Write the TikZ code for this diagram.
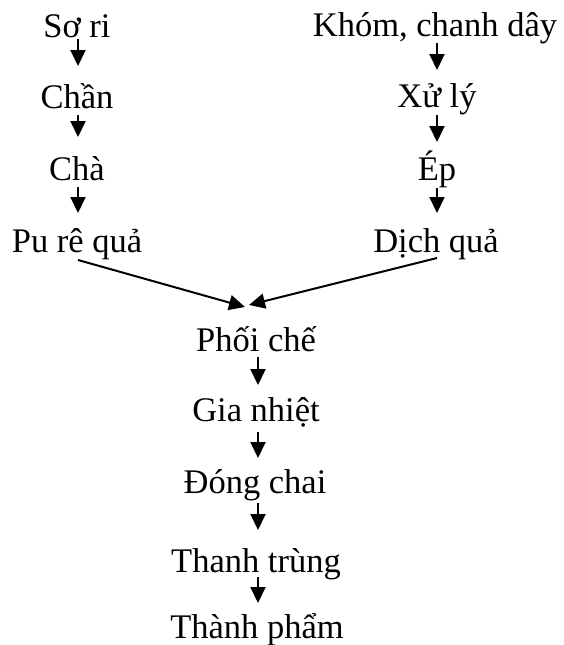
\documentclass[tikz,border=0pt]{standalone}
\usepackage{fontspec}
\setmainfont{Liberation Serif}
\usetikzlibrary{arrows.meta}
\begin{document}
\begin{tikzpicture}[x=1pt,y=-1pt,
  lbl/.style={anchor=base,inner sep=0pt,font=\fontsize{34.5}{40}\selectfont},
  arr/.style={line width=2pt,-{Triangle[length=16pt,width=15pt]}}]
\useasboundingbox (0,0) rectangle (563,645);
% left column
\node[lbl] (sori) at (77,37) {Sơ ri};
\node[lbl] (chan) at (77,108) {Chần};
\node[lbl] (cha)  at (77,180) {Chà};
\node[lbl] (pure) at (77,252) {Pu rê quả};
% right column
\node[lbl] (khom) at (435,36) {Khóm, chanh dây};
\node[lbl] (xuly) at (437,107) {Xử lý};
\node[lbl] (ep)   at (437,180) {Ép};
\node[lbl] (dich) at (436,252) {Dịch quả};
% centre column
\node[lbl] (phoi)  at (256,351) {Phối chế};
\node[lbl] (gia)   at (256,421) {Gia nhiệt};
\node[lbl] (dong)  at (255,493) {Đóng chai};
\node[lbl] (thanh) at (256,572) {Thanh trùng};
\node[lbl] (tp)    at (257,638) {Thành phẩm};
\coordinate (tipL) at (245,307);
\coordinate (tipR) at (249,305);
% arrows
\draw[arr] ([xshift=1pt,yshift=-2pt]sori.base) -- ([xshift=1pt,yshift=42pt]chan.base);
\draw[arr] ([xshift=1pt,yshift=-7pt]chan.base) -- ([xshift=1pt,yshift=43pt]cha.base);
\draw[arr] ([xshift=1pt,yshift=-7pt]cha.base) -- ([xshift=1pt,yshift=39pt]pure.base);
\draw[arr] ([xshift=2pt,yshift=-7pt]khom.base) -- ([yshift=37pt]xuly.base);
\draw[arr] ([yshift=-8pt]xuly.base) -- ([yshift=38pt]ep.base);
\draw[arr] ([yshift=-8pt]ep.base) -- ([xshift=1pt,yshift=39pt]dich.base);
\draw[arr] ([xshift=1pt,yshift=-8pt]pure.base) -- (tipL);
\draw[arr] ([xshift=1pt,yshift=-6pt]dich.base) -- (tipR);
\draw[arr] ([xshift=2pt,yshift=-6pt]phoi.base) -- ([xshift=2pt,yshift=36pt]gia.base);
\draw[arr] ([xshift=2pt,yshift=-11pt]gia.base) -- ([xshift=3pt,yshift=35pt]dong.base);
\draw[arr] ([xshift=3pt,yshift=-10pt]dong.base) -- ([xshift=2pt,yshift=42pt]thanh.base);
\draw[arr] ([xshift=2pt,yshift=-5pt]thanh.base) -- ([xshift=1pt,yshift=35pt]tp.base);
\end{tikzpicture}
\end{document}
